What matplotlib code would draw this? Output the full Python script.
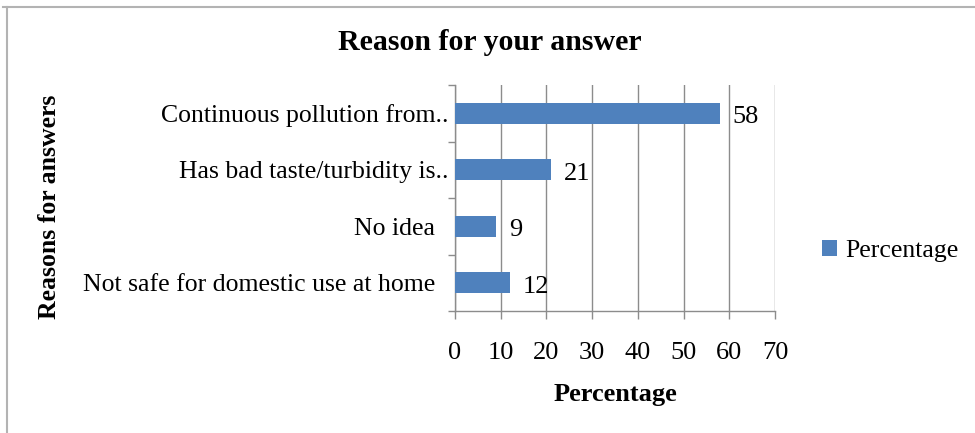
import matplotlib
matplotlib.use("Agg")
import matplotlib.pyplot as plt
from matplotlib.lines import Line2D
from matplotlib.ticker import FixedLocator

plt.rcParams['font.family'] = ['Liberation Serif', 'DejaVu Serif']

categories = [
    "Continuous pollution from..",
    "Has bad taste/turbidity is..",
    "No idea",
    "Not safe for domestic use at home",
]
percentages = [58, 21, 9, 12]
x_ticks = [0, 10, 20, 30, 40, 50, 60, 70]

bar_color = "#4f81bd"
grid_color = "#8c8c8c"

fig = plt.figure(figsize=(9.75, 4.33), dpi=100)
ax = fig.add_axes([455 / 975, 1 - 311 / 433, 320 / 975, 226 / 433])

positions = list(range(len(categories)))
ax.barh(positions, percentages, height=0.37, color=bar_color, zorder=3)
ax.set_ylim(len(categories) - 0.5, -0.5)
ax.set_xlim(0, 70)

# value labels beside each bar
for pos, val in zip(positions, percentages):
    ax.annotate(str(val), (val, pos), xytext=(9, -3), textcoords="offset points",
                va="center", ha="left", fontsize=19)

# category labels; full labels sit a little further from the axis than truncated ones
shown = [c if c.endswith("..") else c + "  " for c in categories]
ax.set_yticks(positions)
ax.set_yticklabels(shown, fontsize=18.5)
ax.tick_params(axis="y", which="major", length=0, pad=5)
ax.yaxis.set_minor_locator(FixedLocator([-0.5, 0.5, 1.5, 2.5, 3.5]))
ax.tick_params(axis="y", which="minor", length=5, width=1, color=grid_color, direction="out")

ax.set_xticks(x_ticks)
ax.set_xticklabels([str(t) for t in x_ticks], fontsize=19)
ax.tick_params(axis="x", length=5.5, width=1, color=grid_color, direction="out", pad=17)

ax.grid(axis="x", color=grid_color, linewidth=1, zorder=0)
for side in ("top", "right"):
    ax.spines[side].set_visible(False)
for side in ("left", "bottom"):
    ax.spines[side].set_color(grid_color)
    ax.spines[side].set_linewidth(1)

ax.set_xlabel("Percentage", fontsize=19, fontweight="bold", va="center")
ax.xaxis.set_label_coords(0.5, (311 - 395) / 226)
ax.set_ylabel("Reasons for answers", fontsize=18.5, fontweight="bold", va="center")
ax.yaxis.set_label_coords((50 - 455) / 320, (311 - 207) / 226)

fig.text(490 / 975, 1 - 43 / 433, "Reason for your answer", fontsize=21.5,
         fontweight="bold", ha="center", va="center")

ax.legend(["Percentage"], loc="center left",
          bbox_to_anchor=(822 / 975, 1 - 251 / 433), bbox_transform=fig.transFigure,
          frameon=False, fontsize=18.5, handlelength=0.6, handleheight=0.6,
          handletextpad=0.3, borderpad=0, borderaxespad=0)

# outer chart frame (top and left edges)
fig.add_artist(Line2D([3 / 975, 1], [1 - 7 / 433, 1 - 7 / 433], transform=fig.transFigure,
                      color="#b3b3b3", linewidth=1.5))
fig.add_artist(Line2D([6.5 / 975, 6.5 / 975], [0, 1 - 7 / 433], transform=fig.transFigure,
                      color="#b3b3b3", linewidth=1.5))

fig.savefig("out.png", dpi=100)
